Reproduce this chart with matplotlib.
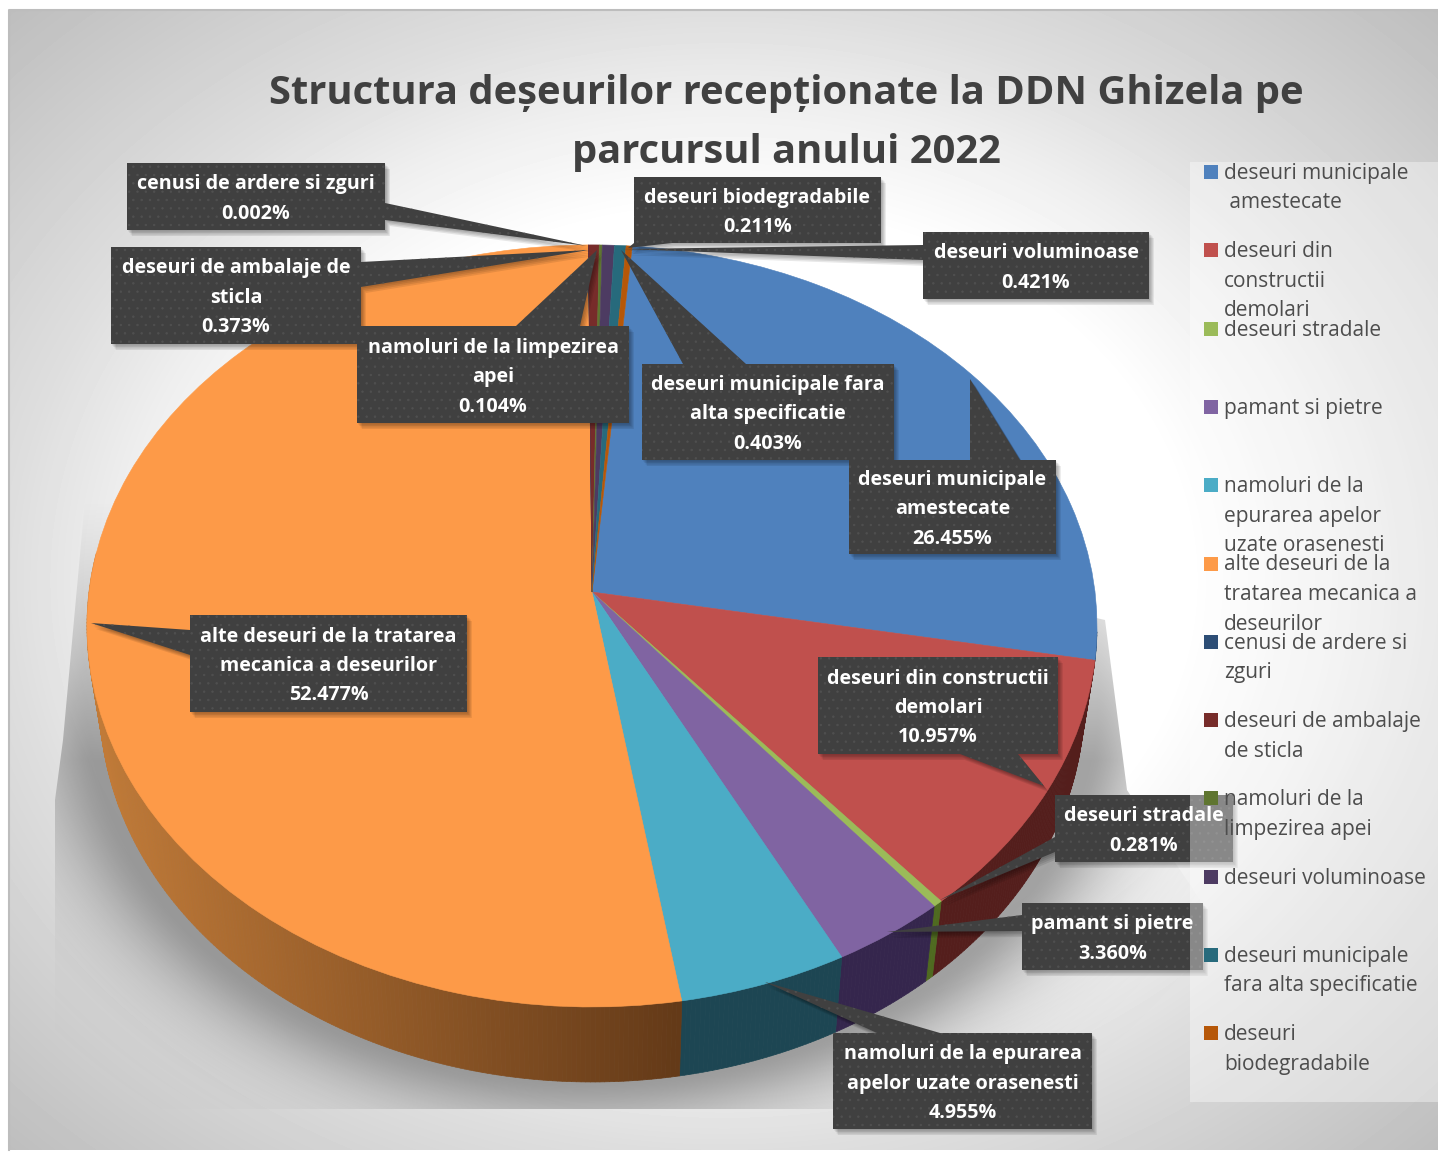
import numpy as np
import matplotlib
matplotlib.use("Agg")
import matplotlib.pyplot as plt
from matplotlib.patches import Polygon, Rectangle
from matplotlib.collections import PolyCollection
from matplotlib.transforms import Transform
from matplotlib.colors import to_rgb

# ---------- data ----------
CATEGORIES = ["deseuri municipale amestecate", "deseuri din constructii demolari", "deseuri stradale",
              "pamant si pietre", "namoluri de la epurarea apelor uzate orasenesti",
              "alte deseuri de la tratarea mecanica a deseurilor", "cenusi de ardere si zguri",
              "deseuri de ambalaje de sticla", "namoluri de la limpezirea apei", "deseuri voluminoase",
              "deseuri municipale fara alta specificatie", "deseuri biodegradabile"]
VALUES = [26.455, 10.957, 0.281, 3.360, 4.955, 52.477, 0.002, 0.373, 0.104, 0.421, 0.403, 0.211]
TITLE_LINES = ["Structura deșeurilor recepționate la DDN Ghizela pe", "parcursul anului 2022"]
LEGEND_LINES = [["deseuri municipale", " amestecate"], ["deseuri din", "constructii", "demolari"],
                ["deseuri stradale"], ["pamant si pietre"],
                ["namoluri de la", "epurarea apelor", "uzate orasenesti"],
                ["alte deseuri de la", "tratarea mecanica a", "deseurilor"],
                ["cenusi de ardere si", "zguri"], ["deseuri de ambalaje", "de sticla"],
                ["namoluri de la", "limpezirea apei"], ["deseuri voluminoase"],
                ["deseuri municipale", "fara alta specificatie"], ["deseuri", "biodegradabile"]]
LABEL_LINES = [["deseuri municipale", "amestecate"], ["deseuri din constructii", "demolari"],
               ["deseuri stradale"], ["pamant si pietre"],
               ["namoluri de la epurarea", "apelor uzate orasenesti"],
               ["alte deseuri de la tratarea", "mecanica a deseurilor"],
               ["cenusi de ardere si zguri"], ["deseuri de ambalaje de", "sticla"],
               ["namoluri de la limpezirea", "apei"], ["deseuri voluminoase"],
               ["deseuri municipale fara", "alta specificatie"], ["deseuri biodegradabile"]]

# ---------- styles / layout ----------
COLORS = ["#4f81bd", "#c0504d", "#9bbb59", "#8064a2", "#4bacc6", "#fd9a48",
          "#2c4d75", "#772c2a", "#5f7530", "#4d3b62", "#276a7c", "#b65708"]
WALL = ["#2c4868", "#541e1c", "#4f6a20", "#35264d", "#1d4653", None,
        "#1c3350", "#541e1c", "#42541f", "#35264d", "#1d4653", "#7a3a05"]
# box x0, y0, x1, y1 and callout tail (base a, tip, base b), pixel positions
BOXES = [(849, 460, 1056, 554), (818, 657, 1058, 754), (1055, 795, 1233, 862), (1022, 903, 1203, 970),
         (833, 1033, 1092, 1129), (190, 615, 467, 712), (127, 163, 385, 230), (111, 247, 361, 344),
         (357, 326, 629, 423), (923, 232, 1149, 299), (642, 364, 894, 460), (634, 177, 881, 243)]
TAILS = [((970, 460), (970, 379), (1020, 460)), ((960, 754), (1044, 786), (1018, 754)),
         ((1055, 837), (940, 900), (1055, 852)), ((1022, 915), (887, 932), (1022, 931)),
         ((877, 1033), (765, 982), (940, 1033)), ((190, 630), (91, 623), (190, 655)),
         ((385, 203), (587, 246), (385, 220)), ((361, 262), (589, 250), (361, 287)),
         ((516, 326), (597, 250), (580, 326)), ((923, 245), (622, 249), (923, 260)),
         ((683, 364), (621, 250), (746, 364)), ((634, 243), (628, 248), (672, 243))]
W, H = 1438, 1152
CX, CY, A, B, K = 592.0, 592.0, 503.0, 378.0, 0.0891
DEPTH, SHRINK = 75.0, 0.975
LABEL_FS, LEGEND_FS, TITLE_FS = 14.2, 15.0, 28.7
FONT = "Open Sans"


class PieProjection(Transform):
    """Perspective tilt of the unit pie circle on to the page."""
    input_dims = output_dims = 2
    def __init__(self, scale=1.0, dy=0.0):
        super().__init__()
        self.scale, self.dy = scale, dy
    def transform_non_affine(self, values):
        values = np.asarray(values, float)
        u, v = values[:, 0], values[:, 1]
        d = 1 + K * v
        return np.column_stack([CX + self.scale * A * u / d, CY + self.dy - B * v / d])


fig = plt.figure(figsize=(W / 100, H / 100), dpi=100, facecolor="white")
ax = fig.add_axes([0, 0, 1, 1])

# pie top, drawn by the library from the values
wedges, _ = ax.pie(VALUES, colors=COLORS, startangle=85, counterclock=False, radius=1,
                   wedgeprops={"linewidth": 0.4})
top = PieProjection()
for w, c in zip(wedges, COLORS):
    w.set_transform(top + ax.transData)
    w.set_edgecolor(c)
    w.set_zorder(4)

ax.set_aspect("auto")

# background
yy, xx = np.mgrid[10:1150, 9:1438]
r = np.sqrt(((xx - 724) / 715.0) ** 2 + ((yy - 580) / 570.0) ** 2)
bg = np.interp(r, [0.65, 0.85, 1.0, 1.41], [255, 238, 222, 190]) / 255.0
ax.imshow(bg, cmap="gray", vmin=0, vmax=1, extent=(9, 1438, 1150, 10), aspect="auto", zorder=0,
          interpolation="bilinear")
ax.plot([9, 9, 1438], [1150, 10, 10], color="#bdbdbd", lw=1.5, zorder=1)

# soft shadow behind the pie
yy2, xx2 = np.mgrid[480:1115, 50:1200]
d1 = (np.sqrt(((xx2 - CX) / 505.0) ** 2 + ((yy2 - 626 - 75) / 381.0) ** 2) - 1) * 440
d2 = np.where(yy2 < 701, (np.abs(xx2 - CX) - 505), 1e4)
d = np.clip(np.minimum(d1, d2), 0, None)
alpha = 0.62 * np.exp(-(d / 55.0) ** 1.5) * np.clip((yy2 - 500) / 260.0, 0, 1) ** 1.2
sh = np.zeros(d.shape + (4,))
sh[..., :3] = 0.42
sh[..., 3] = alpha
im = ax.imshow(sh, extent=(50, 1200, 1115, 480), aspect="auto", zorder=2)
clip = Polygon([(85, 500), (63, 740), (55, 800), (55, 1109), (1200, 1109), (1200, 900), (1127, 790), (1105, 620), (592, 500)],
               closed=True, transform=ax.transData, fill=False, edgecolor="none")
ax.add_patch(clip)
im.set_clip_path(clip)

# pie wall: one strip per small angular step, per slice
bottom = PieProjection(SHRINK, DEPTH)
quads, qcolors = [], []
edges = np.cumsum([0] + VALUES) / sum(VALUES) * 360 + 5.0
for i in range(len(VALUES)):
    a0, a1 = edges[i], edges[i + 1]
    a0c, a1c = max(a0, 96), min(a1, 276)
    if a1c <= a0c:
        continue
    steps = max(2, int((a1c - a0c) / 0.5))
    phis = np.radians(np.linspace(a0c, a1c, steps + 1))
    pts = np.column_stack([np.sin(phis), np.cos(phis)])
    t, b = top.transform(pts), bottom.transform(pts)
    for j in range(steps):
        q = [t[j], t[j + 1], b[j + 1], b[j]]
        quads.append(q)
        if WALL[i] is None:
            f = np.clip((t[j][0] - 100) / 580.0, 0, 1)
            col = (1 - f) * np.array([192, 122, 56]) + f * np.array([100, 58, 24])
            qcolors.append(tuple(col / 255))
        else:
            qcolors.append(to_rgb(WALL[i]))
ax.add_collection(PolyCollection(quads, facecolors=qcolors, edgecolors=qcolors, linewidths=0.5, zorder=3))

# title
for s, y in zip(TITLE_LINES, (104, 163)):
    ax.text(786, y, s, ha="center", va="baseline", fontsize=TITLE_FS, fontweight="bold",
            color="#404040", family=FONT, zorder=5)

# data labels with callouts
plt.rcParams["hatch.linewidth"] = 0.5
for (x0, y0, x1, y1), tail, lines, val in zip(BOXES, TAILS, LABEL_LINES, VALUES):
    a, tip, b = tail
    # walk round the box inserting the tail on the matching side
    if a[0] == x0 and b[0] == x0:
        poly = [(x0, y0), (x1, y0), (x1, y1), (x0, y1), b, tip, a]
    elif a[0] == x1 and b[0] == x1:
        poly = [(x0, y0), (x1, y0), a, tip, b, (x1, y1), (x0, y1)]
    elif a[1] == y0:
        poly = [(x0, y0), a, tip, b, (x1, y0), (x1, y1), (x0, y1)]
    else:
        poly = [(x0, y0), (x1, y0), (x1, y1), b, tip, a, (x0, y1)]
    for off in (1.5, 3, 4.5, 6):
        sp = [(px + off * 0.8, py + off) for px, py in poly]
        ax.add_patch(Polygon(sp, closed=True, facecolor="#000000", edgecolor="none", alpha=0.09, zorder=6))
    ax.add_patch(Polygon(poly, closed=True, facecolor="#404040", edgecolor="none", zorder=7))
    ax.add_patch(Polygon(poly, closed=True, facecolor="none", edgecolor="#505050", hatch="..", lw=0, zorder=7.1))
    rows = list(lines) + [f"{val:.3f}%"]
    yc, xc = (y0 + y1) / 2, (x0 + x1) / 2
    for n, s in enumerate(rows):
        yl = yc + (n - (len(rows) - 1) / 2) * 29.5 + 7.5
        ax.text(xc, yl, s, ha="center", va="baseline", fontsize=LABEL_FS, fontweight="bold",
                color="white", family=FONT, zorder=8)

# legend panel, over the labels
ax.add_patch(Rectangle((1190, 162), 260, 940, facecolor="white", edgecolor="none", alpha=0.38, zorder=9))
for k, (lines, c) in enumerate(zip(LEGEND_LINES, COLORS)):
    top_y = 165 + 78.3 * k
    ax.add_patch(Rectangle((1204, top_y), 14, 14, facecolor=c, edgecolor="none", zorder=10))
    for n, s in enumerate(lines):
        ax.text(1224, top_y + 14 + 29.5 * n, s, ha="left", va="baseline", fontsize=LEGEND_FS,
                color="#4d4d4d", family=FONT, zorder=10)

ax.set_xlim(0, W)
ax.set_ylim(H, 0)
ax.set_axis_off()
fig.savefig("out.png", dpi=100, facecolor="white")
